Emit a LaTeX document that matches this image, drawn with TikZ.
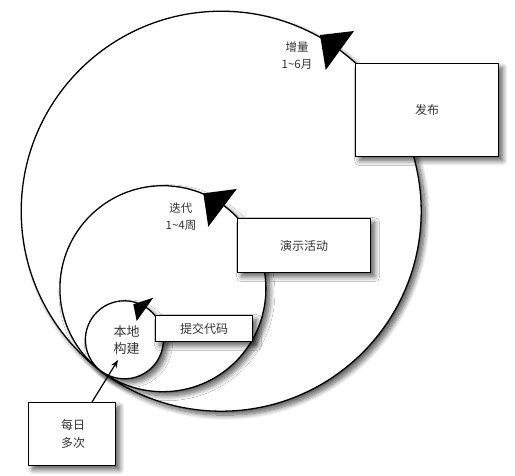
\documentclass[tikz,border=0pt]{standalone}
\usepackage{fontspec}
\newfontfamily\cjk{Noto Sans CJK SC}
\usetikzlibrary{shadows.blur,arrows.meta}
\begin{document}
\begin{tikzpicture}[x=1pt,y=-1pt,
  shad/.style={blur shadow={shadow xshift=4pt,shadow yshift=-4pt,shadow blur steps=10,shadow blur radius=5pt,shadow opacity=65}},
  ring/.style={circle,draw,line width=1.3pt,fill=white,inner sep=0pt,shad},
  box/.style={rectangle,draw,line width=1.3pt,fill=white,inner sep=0pt,anchor=north west,
    font=\cjk\fontsize{12}{14}\selectfont,text=black!80,shad},
  lbl/.style={font=\cjk\fontsize{11.5}{17}\selectfont,align=center,text=black!80},
  head/.style={fill=black}
]
\useasboundingbox (0,0) rectangle (515,475);
% circles
\node[ring,minimum size=400pt] (big) at (221.2,211.2) {};
\node[ring,minimum size=206pt] (mid) at (162.9,288.7) {};
\node[ring,minimum size=78pt] (small) at (124.4,339.8) {};
% boxes
\node[box,minimum width=143pt,minimum height=93pt] (release) at (355,63) {发布};
\node[box,minimum width=133pt,minimum height=54pt] (demo) at (237,218) {演示活动};
\node[box,minimum width=97pt,minimum height=26pt] (commit) at (155,315) {提交代码};
\node[box,minimum width=87pt,minimum height=63pt] (daily) at (28,402) {};
% arrowheads on the rings
\fill[head] (320,35) -- (354,31) -- (325.7,70) -- cycle;
\fill[head] (203.3,193.3) -- (236.7,189) -- (208.3,226.7) -- cycle;
\fill[head] (133.3,304.3) -- (153.3,297.7) -- (136.7,321) -- cycle;
% labels
\node[lbl] (inc) at (297,56) {增量\\1\textasciitilde6月};
\node[lbl] (iter) at (181,216.5) {迭代\\1\textasciitilde4周};
\node[lbl,font=\cjk\fontsize{13}{16.5}\selectfont] (local) at (126.7,340) {本地\\构建};
\node[lbl,font=\cjk\fontsize{12}{18}\selectfont] (dailytxt) at (73,434) {每日\\多次};
% arrow
\coordinate (tip) at (118,360);
\draw[line width=1.2pt,-{Stealth[length=8pt,width=6pt]}] (daily) -- (tip);
\end{tikzpicture}
\end{document}
